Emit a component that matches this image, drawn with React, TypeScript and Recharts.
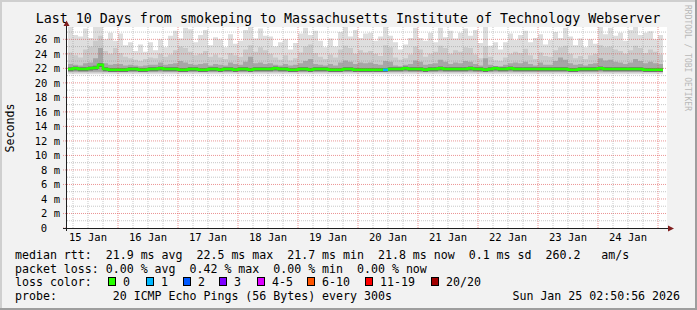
import React from "react";
import {
  ComposedChart, Area, Line, XAxis, YAxis, CartesianGrid, ReferenceLine,
} from "recharts";

const TITLE = "Last 10 Days from smokeping to Massachusetts Institute of Technology Webserver";
const MONO = "'DejaVu Sans Mono', monospace";

// time axis: hours since 15 Jan 00:00
const dayLabels = ["15 Jan", "16 Jan", "17 Jan", "18 Jan", "19 Jan", "20 Jan", "21 Jan", "22 Jan", "23 Jan", "24 Jan"];
const dayNoonHours = [12, 36, 60, 84, 108, 132, 156, 180, 204, 228];
const yTicks = [0, 2, 4, 6, 8, 10, 12, 14, 16, 18, 20, 22, 24, 26];

// one column every 2 h, first one at 15 Jan 04:00
const START_HOUR = 4;
const STEP_HOURS = 2;

// top of the light smoke (slowest pings), ms
const maxRtt = [
  27.7, 26.6, 26.4, 27.5, 26.2, 27.7, 27.7, 26.0, 26.9, 25.8,
  26.8, 25.2, 25.6, 24.4, 25.3, 24.3, 25.6, 24.5, 26.0, 24.9,
  26.5, 27.2, 26.1, 27.6, 27.4, 25.6, 26.6, 27.3, 25.2, 26.3,
  26.0, 24.9, 26.7, 25.4, 25.8, 27.3, 27.7, 26.1, 27.5, 26.5,
  26.4, 25.0, 25.6, 26.0, 24.6, 25.5, 26.8, 27.6, 26.6, 27.2,
  25.8, 24.9, 26.1, 25.0, 27.0, 27.7, 26.4, 27.3, 26.2, 26.8,
  26.9, 25.8, 26.4, 27.7, 26.5, 25.6, 24.6, 25.3, 26.2, 27.6,
  26.2, 25.8, 26.9, 25.6, 27.6, 26.3, 27.2, 26.1, 26.9, 27.5,
  26.5, 27.3, 25.5, 27.7, 25.1, 25.6, 24.6, 25.6, 26.8, 25.9,
  26.6, 27.2, 25.6, 26.2, 26.7, 25.3, 25.9, 27.0, 26.2, 27.6,
  26.4, 25.2, 26.1, 24.9, 26.0, 25.4, 27.7, 26.7, 27.6, 26.5,
  26.9, 25.8, 27.3, 27.7, 26.6, 26.9, 27.1, 26.0, 26.6,
];

// top of the medium smoke band, ms
const upperRtt = [
  24.2, 23.8, 23.5, 24.6, 25.0, 25.8, 26.5, 24.4, 24.0, 24.8,
  24.1, 23.6, 23.4, 23.2, 23.0, 23.3, 23.5, 23.4, 24.0, 23.6,
  23.9, 24.5, 25.0, 24.8, 24.3, 23.8, 24.0, 24.4, 23.6, 23.9,
  23.5, 23.3, 24.1, 23.8, 23.6, 24.6, 25.2, 24.3, 24.9, 24.5,
  24.0, 23.5, 23.2, 23.8, 23.1, 23.4, 24.2, 25.0, 25.3, 24.1,
  23.6, 23.3, 23.9, 23.5, 24.6, 25.1, 24.8, 24.0, 24.5, 24.2,
  24.4, 24.0, 23.7, 25.2, 24.9, 23.5, 23.2, 23.4, 23.9, 25.0,
  24.6, 23.6, 24.0, 24.3, 25.1, 24.8, 24.0, 24.5, 24.3, 24.9,
  24.8, 23.9, 23.4, 25.0, 23.6, 23.1, 23.0, 23.5, 24.0, 24.3,
  24.1, 24.7, 23.8, 23.3, 24.2, 23.7, 23.6, 24.5, 24.9, 25.1,
  24.0, 23.4, 23.7, 23.3, 23.8, 24.0, 25.2, 24.9, 25.0, 24.6,
  24.4, 24.0, 24.5, 25.1, 24.8, 24.1, 24.6, 24.3, 23.9,
];

// top of the dark smoke band, ms
const darkRtt = [
  22.6, 22.5, 22.4, 22.7, 22.8, 23.4, 24.8, 22.7, 22.5, 22.6,
  22.6, 22.4, 22.5, 22.4, 22.3, 22.4, 22.5, 22.5, 22.8, 22.5,
  22.6, 22.7, 23.0, 22.8, 22.6, 22.5, 22.6, 22.7, 22.4, 22.6,
  22.5, 22.4, 22.8, 22.6, 22.5, 22.9, 23.6, 22.7, 22.8, 22.6,
  22.7, 22.5, 22.4, 22.6, 22.4, 22.5, 22.7, 23.0, 23.3, 22.6,
  22.5, 22.4, 22.6, 22.4, 22.8, 23.1, 22.9, 22.6, 22.8, 22.7,
  22.8, 22.6, 22.5, 23.0, 22.9, 22.4, 22.3, 22.5, 22.6, 23.1,
  22.9, 22.5, 22.6, 22.7, 23.2, 22.9, 22.6, 22.8, 22.7, 23.0,
  22.9, 22.6, 22.4, 23.4, 22.5, 22.3, 22.3, 22.5, 22.7, 22.8,
  22.7, 22.9, 22.6, 22.4, 22.8, 22.5, 22.5, 23.0, 23.5, 23.2,
  22.7, 22.5, 22.6, 22.4, 22.6, 22.7, 23.4, 23.1, 23.2, 22.9,
  22.8, 22.6, 22.8, 23.3, 23.0, 22.7, 22.9, 22.7, 22.6,
];

// median rtt, ms
const medianRtt = [
  21.9, 22.0, 21.9, 21.9, 22.0, 22.1, 22.5, 21.9, 21.8, 21.8,
  21.8, 21.8, 21.9, 21.9, 21.8, 21.8, 21.9, 21.9, 22.0, 21.9,
  21.9, 21.9, 21.8, 21.8, 21.9, 21.9, 21.8, 21.8, 21.9, 21.9,
  21.8, 21.9, 21.9, 21.8, 21.9, 21.9, 21.8, 21.9, 21.9, 21.9,
  21.9, 22.0, 21.9, 21.9, 21.8, 21.8, 21.9, 21.9, 21.8, 21.9,
  21.9, 21.9, 21.8, 21.8, 21.8, 21.9, 21.9, 21.8, 21.8, 21.8,
  21.8, 21.8, 21.8, 21.8, 21.9, 21.9, 21.9, 22.0, 21.9, 21.9,
  21.9, 21.8, 21.9, 21.9, 22.0, 21.9, 21.9, 21.9, 21.9, 21.9,
  22.0, 21.9, 21.9, 21.8, 21.9, 22.0, 21.9, 21.9, 22.0, 21.9,
  21.9, 21.9, 21.9, 21.9, 21.9, 21.9, 21.9, 21.9, 21.9, 21.9,
  21.8, 21.8, 21.9, 21.9, 21.9, 21.9, 22.0, 21.9, 21.9, 21.9,
  21.9, 21.9, 21.9, 21.9, 21.9, 21.8, 21.8, 21.8, 21.8,
];

// columns where 1 of 20 pings was lost
const loss1Columns = [63];

const SMOKE_LOW = { light: 21.2, upper: 21.4, dark: 21.55 };

const COLORS = {
  back: "#f2f2f2",
  shadeA: "#cfcfcf",
  shadeB: "#9e9e9e",
  grid: "rgba(143,143,143,0.5)",
  mgrid: "rgba(222,79,79,0.6)",
  arrow: "#801f1f",
  axis: "#1f1f1f",
  light: "#dedede",
  upper: "#cacaca",
  dark: "#a6a6a6",
  core: "#6e6e6e",
};

const lossLegend = [
  { label: "0", color: "#26ff00", x: 108 },
  { label: "1", color: "#00b8ff", x: 146 },
  { label: "2", color: "#0059ff", x: 183 },
  { label: "3", color: "#7e00ff", x: 219 },
  { label: "4-5", color: "#dd00ff", x: 257 },
  { label: "6-10", color: "#ff5500", x: 307 },
  { label: "11-19", color: "#ff0000", x: 365 },
  { label: "20/20", color: "#a10000", x: 431 },
];

const rows = medianRtt.map((m, i) => ({
  h: START_HOUR + i * STEP_HOURS,
  light: [SMOKE_LOW.light, maxRtt[i]],
  upper: [SMOKE_LOW.upper, upperRtt[i]],
  dark: [SMOKE_LOW.dark, darkRtt[i]],
  core: [m - 0.3, m + 0.25],
  median: m,
  loss1: loss1Columns.includes(i) ? m : loss1Columns.includes(i - 1) ? medianRtt[i - 1] : null,
}));
// closing row so the last column has its width
rows.push({ ...rows[rows.length - 1], h: rows[rows.length - 1].h + STEP_HOURS, loss1: null });

const gridHours = Array.from({ length: 40 }, (_, k) => 6 * (k + 1));
const gridMs = Array.from({ length: 27 }, (_, k) => k + 1);

function XTick(props: any) {
  const { x, y, payload } = props;
  const idx = dayNoonHours.indexOf(payload.value);
  return (
    <text x={x} y={y + 13} textAnchor="middle" fontFamily={MONO} fontSize={10.5} fill="#000">
      {dayLabels[idx]}
    </text>
  );
}

function YTick(props: any) {
  const { x, y, payload } = props;
  const v = payload.value;
  return (
    <text x={v === 0 ? x - 12.8 : x} y={y + 3.8} textAnchor="end" fontFamily={MONO} fontSize={10.5} fill="#000" stroke="none">
      {v === 0 ? "0" : `${v} m`}
    </text>
  );
}

const txt = { fontFamily: MONO, fontSize: 11.6, fill: "#000", style: { whiteSpace: "pre" as const } };

export default function App() {
  return (
    <div style={{ position: "relative", width: 697, height: 310, background: COLORS.back, overflow: "hidden" }}>
      <style>{`body{margin:0}`}</style>
      <ComposedChart
        width={697}
        height={310}
        data={rows}
        margin={{ top: 27, right: 30, bottom: 62, left: 7 }}
        style={{ position: "absolute", left: 0, top: 0 }}
      >
        <CartesianGrid fill="#ffffff" stroke="none" horizontal={false} vertical={false} />
        <XAxis
          type="number" dataKey="h" domain={[3.6, 243.6]} ticks={dayNoonHours}
          height={20} axisLine={false} tickLine={false} tickSize={0} tickMargin={0}
          tick={<XTick />} interval={0} allowDataOverflow
        />
        <YAxis
          type="number" domain={[0, 27.7]} ticks={yTicks} width={60}
          axisLine={false} tickLine={{ stroke: COLORS.mgrid, strokeDasharray: "1 1" }} tickSize={4} tickMargin={3}
          tick={<YTick />} interval={0} allowDataOverflow
        />
        <Area type="stepAfter" dataKey="light" fill={COLORS.light} fillOpacity={1} stroke="none" isAnimationActive={false} />
        <Area type="stepAfter" dataKey="upper" fill={COLORS.upper} fillOpacity={1} stroke="none" isAnimationActive={false} />
        <Area type="stepAfter" dataKey="dark" fill={COLORS.dark} fillOpacity={1} stroke="none" isAnimationActive={false} />
        <Area type="stepAfter" dataKey="core" fill={COLORS.core} fillOpacity={1} stroke="none" isAnimationActive={false} />
        {gridMs.map((v) => (
          <ReferenceLine key={`y${v}`} y={v} ifOverflow="hidden" stroke={v % 2 === 0 ? COLORS.mgrid : COLORS.grid} strokeDasharray="1 1" />
        ))}
        {gridHours.map((h) => (
          <ReferenceLine key={`x${h}`} x={h} ifOverflow="hidden" stroke={h % 24 === 0 ? COLORS.mgrid : COLORS.grid} strokeDasharray="1 1" />
        ))}
        <Line type="stepAfter" dataKey="median" stroke="#26ff00" strokeWidth={2.5} dot={false} isAnimationActive={false} />
        <Line type="stepAfter" dataKey="loss1" stroke="#00b8ff" strokeWidth={2.5} dot={false} connectNulls={false} isAnimationActive={false} />
      </ComposedChart>

      <svg width={697} height={310} style={{ position: "absolute", left: 0, top: 0, pointerEvents: "none" }}>
        <rect x={0} y={0} width={697} height={2} fill={COLORS.shadeA} />
        <rect x={0} y={0} width={2} height={310} fill={COLORS.shadeA} />
        <rect x={0} y={308} width={697} height={2} fill={COLORS.shadeB} />
        <rect x={695} y={0} width={2} height={310} fill={COLORS.shadeB} />

        <text x={348} y={23} textAnchor="middle" fontFamily={MONO} fontSize={13.3} fill="#000">{TITLE}</text>
        <text transform="translate(14,128) rotate(-90)" textAnchor="middle" {...txt}>Seconds</text>
        <text transform="translate(685,5) rotate(90)" fontFamily={MONO} fontSize={8} fill="#b8b8b8">RRDTOOL / TOBI OETIKER</text>

        <line x1={66.5} y1={231} x2={66.5} y2={25} stroke={COLORS.axis} strokeWidth={1} />
        <polygon points="63.5,26 69.5,26 66.5,20.5" fill={COLORS.arrow} />
        <line x1={63} y1={228.5} x2={669} y2={228.5} stroke={COLORS.axis} strokeWidth={1} />
        <polygon points="668,225.5 668,231.5 674,228.5" fill={COLORS.arrow} />

        <text x={15} y={258.5} {...txt}>{"median rtt:  21.9 ms avg  22.5 ms max  21.7 ms min  21.8 ms now  0.1 ms sd  260.2   am/s"}</text>
        <text x={15} y={272.5} {...txt}>{"packet loss: 0.00 % avg  0.42 % max  0.00 % min  0.00 % now"}</text>
        <text x={15} y={286.3} {...txt}>loss color:</text>
        {lossLegend.map((l) => (
          <g key={l.label}>
            <rect x={l.x + 0.5} y={277.5} width={7} height={8} fill={l.color} stroke="#000" strokeWidth={1} />
            <text x={l.x + 15} y={286.3} {...txt}>{l.label}</text>
          </g>
        ))}
        <text x={15} y={300} {...txt}>{"probe:        20 ICMP Echo Pings (56 Bytes) every 300s"}</text>
        <text x={680} y={300} textAnchor="end" {...txt}>Sun Jan 25 02:50:56 2026</text>
      </svg>
    </div>
  );
}
